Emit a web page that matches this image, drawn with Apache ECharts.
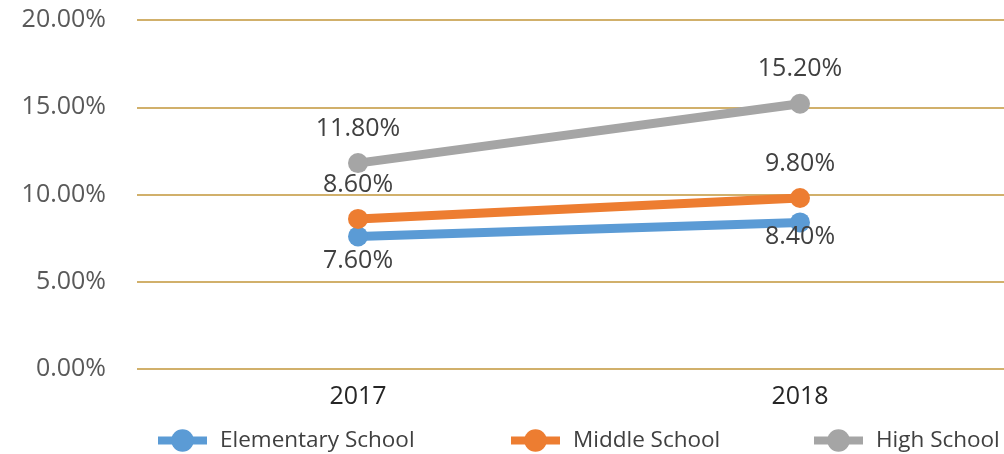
<!DOCTYPE html>
<html>
<head>
<meta charset="utf-8">
<script src="https://cdn.jsdelivr.net/npm/echarts@6/dist/echarts.min.js"></script>
<style>
  html, body { margin: 0; padding: 0; background: #fff; }
  #chart { width: 1004px; height: 454px; }
</style>
</head>
<body>
<div id="chart"></div>
<script>
const years = ['2017', '2018'];
const elementary = [7.6, 8.4];
const middle = [8.6, 9.8];
const high = [11.8, 15.2];
const seriesNames = ['Elementary School', 'Middle School', 'High School'];

const font = '"Open Sans", "Noto Sans", sans-serif';
const pct = v => v.toFixed(2) + '%';

// excel nudges the lower labels a bit, the 2018 one sits right under the marker
function makeSeries (name, data, color, pos, dist, shifts) {
  return {
    name: name,
    type: 'line',
    data: data.map((v, i) => ({
      value: v,
      label: { offset: [0, shifts ? shifts[i] : 0] }
    })),
    symbol: 'circle',
    symbolSize: 20,
    itemStyle: { color: color },
    lineStyle: { color: color, width: 9 },
    label: {
      show: true,
      position: pos,
      distance: dist,
      color: '#404040',
      fontSize: 25,
      fontFamily: font,
      formatter: p => pct(p.value)
    }
  }
}

// one legend per item so they can sit where excel put them
function makeLegend (name, left) {
  return {
    left: left,
    top: 429,
    padding: 0,
    itemWidth: 49,
    itemHeight: 28,
    lineStyle: { width: 8 },
    textStyle: { fontSize: 22.5, color: '#404040', fontFamily: font, padding: [0, 0, 0, 8] },
    data: [name]
  }
}

const chart = echarts.init(document.getElementById('chart'));
chart.setOption({
  animation: false,
  grid: { left: 137, width: 884, top: 20, height: 349, outerBoundsMode: 'none' },
  legend: [
    makeLegend(seriesNames[0], 154),
    makeLegend(seriesNames[1], 507),
    makeLegend(seriesNames[2], 810)
  ],
  xAxis: {
    type: 'category',
    data: years,
    axisLine: { show: false },
    axisTick: { show: false },
    axisLabel: { fontSize: 25, color: '#262626', fontFamily: font, margin: 15 }
  },
  yAxis: {
    type: 'value',
    min: 0,
    max: 20,
    interval: 5,
    axisLine: { show: false },
    axisTick: { show: false },
    axisLabel: { fontSize: 25, color: '#595959', fontFamily: font, margin: 31, formatter: v => pct(v) },
    splitLine: { lineStyle: { color: '#d1b06b', width: 2 } }
  },
  series: [
    makeSeries(seriesNames[0], elementary, '#5b9bd5', 'bottom', 2, [0, -10]),
    makeSeries(seriesNames[1], middle, '#ed7d31', 'top', 12),
    makeSeries(seriesNames[2], high, '#a5a5a5', 'top', 12)
  ]
});
</script>
</body>
</html>
